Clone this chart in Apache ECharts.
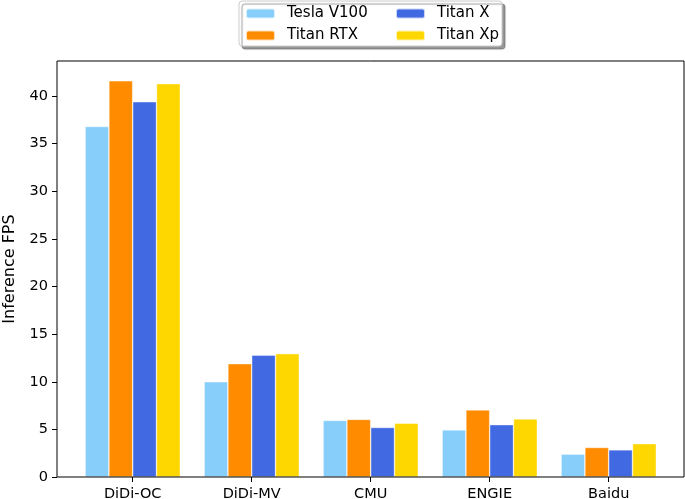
<!DOCTYPE html>
<html>
<head>
<meta charset="utf-8">
<script src="https://cdn.jsdelivr.net/npm/echarts@6/dist/echarts.min.js"></script>
<style>
  html, body { margin: 0; padding: 0; background: #fff; }
  #chart { width: 685px; height: 499px; }
</style>
</head>
<body>
<div id="chart"></div>
<script>
// data
const datasets = ['DiDi-OC', 'DiDi-MV', 'CMU', 'ENGIE', 'Baidu'];
const teslaV100 = [36.8, 10.0, 5.95, 4.95, 2.4];
const titanRTX = [41.6, 11.9, 6.05, 7.05, 3.1];
const titanX = [39.4, 12.8, 5.2, 5.5, 2.85];
const titanXp = [41.3, 12.95, 5.65, 6.1, 3.5];
const yTicks = [0, 5, 10, 15, 20, 25, 30, 35, 40];
const yMax = 43.68;

const font = '"DejaVu Sans", sans-serif';

function bar(name, data, color) {
    return {
        name: name,
        type: 'bar',
        xAxisIndex: 1,
        yAxisIndex: 1,
        data: data,
        barGap: '0%',
        barCategoryGap: '20%',
        itemStyle: { color: color, borderColor: 'rgba(255,255,255,0.7)', borderWidth: 0.6 },
        emphasis: { disabled: true }
    };
}

const legendText = { fontFamily: font, fontSize: 15, color: '#000', padding: [0, 0, 0, 7] };

const option = {
    animation: false,
    textStyle: { fontFamily: font },
    graphic: [{
        type: 'rect',
        shape: { x: 239, y: 1, width: 263, height: 45, r: 3 },
        style: {
            fill: '#fff', stroke: '#cccccc', lineWidth: 1,
            shadowColor: 'rgba(0,0,0,0.4)', shadowBlur: 1, shadowOffsetX: 3, shadowOffsetY: 3
        },
        z: 5
    }],
    legend: [{
        orient: 'vertical', left: 245, top: 6, padding: 0,
        itemWidth: 29, itemHeight: 10, itemGap: 7,
        data: ['Tesla V100', 'Titan RTX'],
        textStyle: legendText, z: 10
    }, {
        orient: 'vertical', left: 395, top: 6, padding: 0,
        itemWidth: 29, itemHeight: 10, itemGap: 7,
        data: ['Titan X', 'Titan Xp'],
        textStyle: legendText, z: 10
    }],
    grid: [
        { left: 57, right: 1, top: 61, bottom: 22, outerBoundsMode: 'none', show: true, borderColor: '#000', borderWidth: 1, backgroundColor: 'transparent', z: 3 },
        { left: 73.2, right: 16.8, top: 61, bottom: 22, outerBoundsMode: 'none' }
    ],
    xAxis: [
        { gridIndex: 0, type: 'category', data: datasets, show: false },
        {
            gridIndex: 1, type: 'category', data: datasets,
            axisLine: { show: false },
            axisTick: { show: true, alignWithLabel: true, length: 5, lineStyle: { color: '#000' } },
            axisLabel: { color: '#000', fontSize: 14.5, fontFamily: font, margin: 10 }
        }
    ],
    yAxis: [
        {
            gridIndex: 0, type: 'value', min: 0, max: yMax,
            name: 'Inference FPS', nameLocation: 'middle', nameGap: 39,
            nameTextStyle: { color: '#000', fontSize: 16, fontFamily: font },
            axisLine: { show: false },
            splitLine: { show: false },
            axisTick: { show: true, length: 5, customValues: yTicks, lineStyle: { color: '#000' } },
            axisLabel: { color: '#000', fontSize: 14.5, fontFamily: font, margin: 9, customValues: yTicks }
        },
        { gridIndex: 1, type: 'value', min: 0, max: yMax, show: false }
    ],
    series: [
        bar('Tesla V100', teslaV100, '#87CEFA'),
        bar('Titan RTX', titanRTX, '#FF8C00'),
        bar('Titan X', titanX, '#4169E1'),
        bar('Titan Xp', titanXp, '#FFD700')
    ]
};

const chart = echarts.init(document.getElementById('chart'));
chart.setOption(option);
</script>
</body>
</html>
